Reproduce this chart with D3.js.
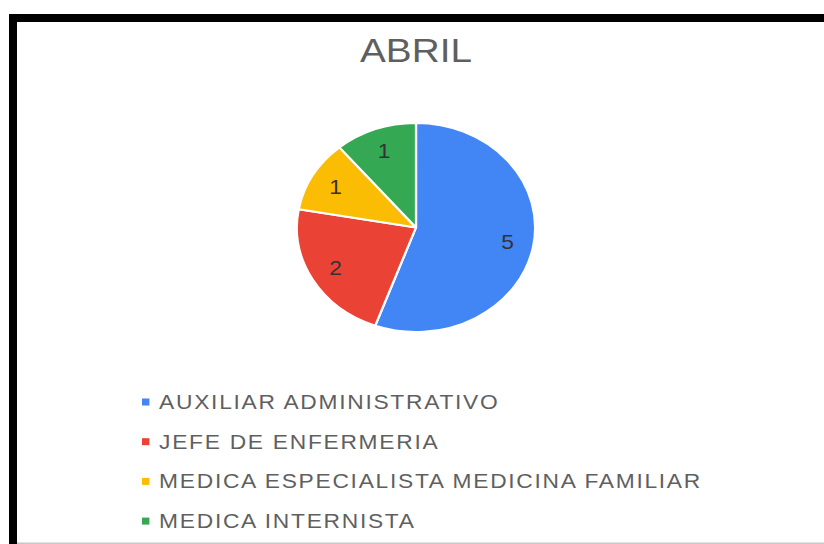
<!DOCTYPE html>
<html>
<head>
<meta charset="utf-8">
<script src="https://cdn.jsdelivr.net/npm/d3@7"></script>
<style>
html,body{margin:0;padding:0;background:#fff;}
svg{display:block;}
text{font-family:"Liberation Sans",Arial,sans-serif;}
</style>
</head>
<body>
<svg id="chart" width="824" height="544"></svg>
<script>
const title = "ABRIL";
const categories = ["AUXILIAR ADMINISTRATIVO","JEFE DE ENFERMERIA","MEDICA ESPECIALISTA MEDICINA FAMILIAR","MEDICA INTERNISTA"];
const values = [5, 2, 1, 1];
const colors = ["#4285F4","#EA4335","#FBBC04","#34A853"];

const svg = d3.select("#chart");
const W = 824, H = 544;
svg.append("rect").attr("width", W).attr("height", H).attr("fill", "#fff");

// frame
svg.append("rect").attr("x", 9).attr("y", 14).attr("width", W - 9).attr("height", 8).attr("fill", "#000");
svg.append("rect").attr("x", 9).attr("y", 14).attr("width", 8).attr("height", H - 14).attr("fill", "#000");
svg.append("rect").attr("x", 17).attr("y", H - 1.5).attr("width", W - 17).attr("height", 1.5).attr("fill", "#c8c8c8");

const sx = 1.14, cx = 416;
const g = svg.append("g").attr("transform", `translate(${cx},0) scale(${sx},1)`);

g.append("text").attr("x", 0).attr("y", 62).attr("text-anchor", "middle")
  .attr("font-size", 34).attr("fill", "#5f5f5f").text(title);

const r = 104.5, cy = 227.5;
const pie = d3.pie().sort(null).value(d => d)(values);
const arc = d3.arc().innerRadius(0).outerRadius(r);
const labelArc = d3.arc().innerRadius(r * 0.78).outerRadius(r * 0.78);
const pg = g.append("g").attr("transform", `translate(0,${cy})`);
pg.selectAll("path").data(pie).join("path")
  .attr("d", arc).attr("fill", (d, i) => colors[i])
  .attr("stroke", "#fff").attr("stroke-width", 2).attr("stroke-linejoin", "round");
pg.selectAll("text").data(pie).join("text")
  .attr("transform", d => `translate(${labelArc.centroid(d)})`)
  .attr("text-anchor", "middle").attr("dy", "0.35em")
  .attr("font-size", 20).attr("fill", "#333").text(d => d.data);

const lx = (142 - cx) / sx, ly0 = 402, ldy = 39.7;
const lg = g.append("g");
categories.forEach((c, i) => {
  const y = ly0 + i * ldy;
  lg.append("rect").attr("x", lx).attr("y", y - 3.5).attr("width", 6.5).attr("height", 7).attr("fill", colors[i]);
  lg.append("text").attr("x", lx + 15).attr("y", y).attr("dy", "0.35em")
    .attr("font-size", 20).attr("letter-spacing", 1.5).attr("fill", "#5f5f5f").text(c);
});
</script>
</body>
</html>
